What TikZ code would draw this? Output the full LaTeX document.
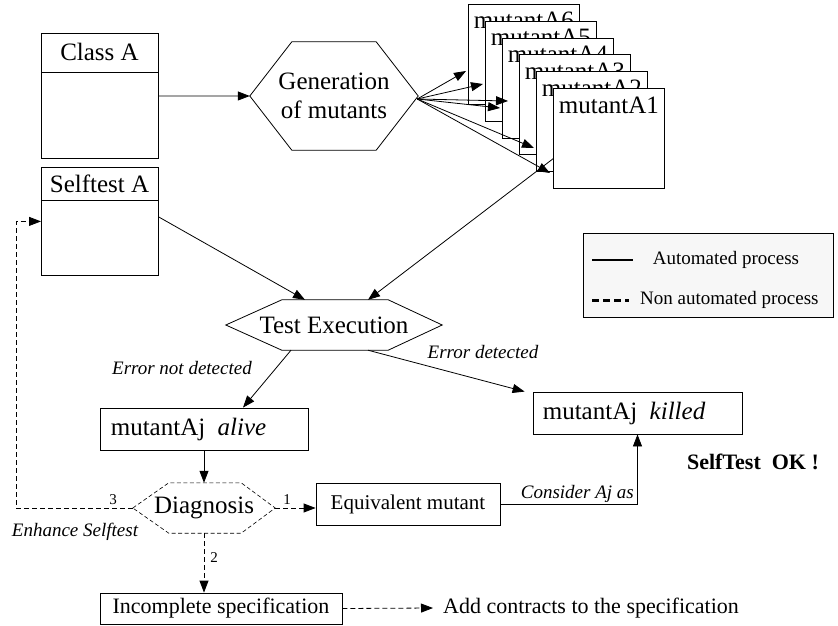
\documentclass[tikz,border=0pt]{standalone}
\usepackage{fontspec}
\setmainfont{Liberation Serif}
\usetikzlibrary{arrows.meta,calc}
\newcommand\fsz[2]{\fontsize{#1}{#2}\selectfont}
\begin{document}
\begin{tikzpicture}[x=1pt,y=-1pt,
  every node/.style={font=\fsz{25}{29}},
  box/.style={draw, line width=0.8pt, inner sep=0, fill=white},
  plain/.style={inner sep=0},
  lbl/.style={inner sep=0, font=\fsz{19}{22}\itshape},
  num/.style={inner sep=0, font=\fsz{15}{18}},
  arr/.style={-{Triangle[length=12pt,width=9pt]}, line width=0.8pt},
  darr/.style={arr, dash pattern=on 5pt off 3pt},
  mbox/.style={box, anchor=north west, minimum width=111, minimum height=100},
  mtext/.style={inner sep=0, anchor=base},
]
\useasboundingbox (0,0) rectangle (838,626);

% Class A
\node[box, anchor=north west, minimum width=117, minimum height=125] (classA) at (41,33) {};
\draw[line width=0.8pt] ($(classA.north west)+(0,39)$) -- ($(classA.north east)+(0,39)$);
\node[plain] (classAt) at (99.5,52) {Class A};

% Selftest A
\node[box, anchor=north west, minimum width=117, minimum height=108] (self) at (41,167) {};
\draw[line width=0.8pt] ($(self.north west)+(0,33)$) -- ($(self.north east)+(0,33)$);
\node[plain] (selft) at (99.5,184) {Selftest A};

% Generation hexagon
\node[plain, minimum width=168, minimum height=108, align=center] (gen) at (334,96) {Generation\\of mutants};
\draw[line width=0.8pt] (gen.west) -- ($(gen.north west)+(42,0)$) -- ($(gen.north east)+(-42,0)$)
  -- (gen.east) -- ($(gen.south east)+(-42,0)$) -- ($(gen.south west)+(42,0)$) -- cycle;

% mutant boxes (each one covers part of the label of the previous one)
\node[mbox] (m6) at (468,4) {};
\node[mtext] (m6t) at ($(m6.north)+(0,25)$) {mutantA6};
\node[mbox] (m5) at (485,21) {};
\node[mtext] (m5t) at ($(m5.north)+(0,25)$) {mutantA5};
\node[mbox] (m4) at (502,38) {};
\node[mtext] (m4t) at ($(m4.north)+(0,25)$) {mutantA4};
\node[mbox] (m3) at (519,54) {};
\node[mtext] (m3t) at ($(m3.north)+(0,25)$) {mutantA3};
\node[mbox] (m2) at (536,71) {};
\node[mtext] (m2t) at ($(m2.north)+(0,25)$) {mutantA2};
\node[mbox] (m1) at (553,88) {};
\node[mtext] (m1t) at ($(m1.north)+(0,25)$) {mutantA1};

% fan arrows
\coordinate (g) at ($(gen.east)+(-1,3)$);
\coordinate (t1) at (466,71);
\coordinate (t2) at (483,84);
\coordinate (t3) at (508,101);
\coordinate (t4) at (500,108);
\coordinate (t5) at (534,148);
\coordinate (t6) at (550,173);
\foreach \t in {t1,t2,t3,t4,t5,t6} \draw[arr] (g) -- (\t);

\draw[arr] (classA.east) -- (gen.west);

% Test execution hexagon
\node[plain, minimum width=216, minimum height=50] (test) at (334,325) {Test Execution};
\draw[line width=0.8pt] (test.west) -- ($(test.north west)+(56,0)$) -- ($(test.north east)+(-54,0)$)
  -- (test.east) -- ($(test.south east)+(-54,0)$) -- ($(test.south west)+(56,0)$) -- cycle;

\draw[arr] ($(self.north east)+(0,50)$) -- ($(test.north)+(-29,0)$);
\draw[arr] ($(m1.south west)+(0,-30)$) -- ($(test.north)+(34,0)$);

% alive
\node[box, minimum width=208, minimum height=42] (alive) at (204,429) {};
\node[plain, anchor=west] (alivet) at ($(alive.west)+(11,0)$) {mutantAj\ \ \textit{alive}};
\draw[arr] ($(test.south)+(-43,0)$) -- ($(alive.north)+(39,0)$);
\node[lbl] (lnd) at (182,368) {Error not detected};

% killed
\node[box, minimum width=209, minimum height=42] (killed) at (637.5,413) {};
\node[plain, anchor=west] (killedt) at ($(killed.west)+(10,0)$) {mutantAj\ \ \textit{killed}};
\draw[arr] ($(test.south)+(34,0)$) -- ($(killed.north west)+(-8,0)$);
\node[lbl] (ld) at (483,352) {Error detected};

% Diagnosis
\node[plain, minimum width=142, minimum height=50] (diag) at (204,508) {Diagnosis};
\draw[line width=0.6pt, dash pattern=on 4pt off 2.5pt] (diag.west) -- ($(diag.north west)+(36,0)$) -- ($(diag.north east)+(-34,0)$)
  -- (diag.east) -- ($(diag.south east)+(-34,0)$) -- ($(diag.south west)+(36,0)$) -- cycle;
\draw[arr] (alive.south) -- (diag.north);

% Equivalent mutant
\node[box, minimum width=184, minimum height=42, font=\fsz{21}{25}] (equiv) at (408,504) {Equivalent mutant};
\draw[darr] (diag.east) -- (diag.east -| equiv.west);
\node[num] (n1) at (287,500) {1};
\draw[arr] (equiv.east) -| (killed.south);
\node[lbl, anchor=base east] (lcons) at (634,498) {Consider Aj as};

\node[inner sep=0, font=\fsz{22}{26}\bfseries] (ok) at (753,462) {SelfTest\ \ OK !};

% feedback
\coordinate (fb) at (16,508);
\draw[darr] (diag.west) -- (fb) |- (self.west);
\node[num] (n3) at (113,500) {3};
\node[lbl] (enh) at (75,532) {Enhance Selftest};

% incomplete
\node[box, minimum width=242, minimum height=31, font=\fsz{22}{26}] (inc) at (221,608.5) {Incomplete specification};
\draw[darr] (diag.south) -- (diag.south |- inc.north);
\node[num] (n2) at (214,558) {2};
\node[inner sep=0, anchor=west, font=\fsz{22}{26}] (add) at (443,608) {Add contracts to the specification};
\draw[darr] (inc.east) -- ($(add.west)+(-10,0)$);

% legend
\node[draw, line width=0.8pt, fill=black!3, inner sep=0, anchor=north west, minimum width=250, minimum height=84] (leg) at (583,233) {};
\coordinate (ls1) at (592,260);
\coordinate (le1) at (633,260);
\draw[line width=1.8pt] (ls1) -- (le1);
\node[inner sep=0, font=\fsz{19}{22}] (la) at (726,260) {Automated process};
\coordinate (ls2) at (592,300);
\coordinate (le2) at (629,300);
\draw[line width=3pt, dash pattern=on 7pt off 4pt] (ls2) -- (le2);
\node[inner sep=0, anchor=west, font=\fsz{19}{22}] (lna) at (640,300) {Non automated process};
\end{tikzpicture}
\end{document}
